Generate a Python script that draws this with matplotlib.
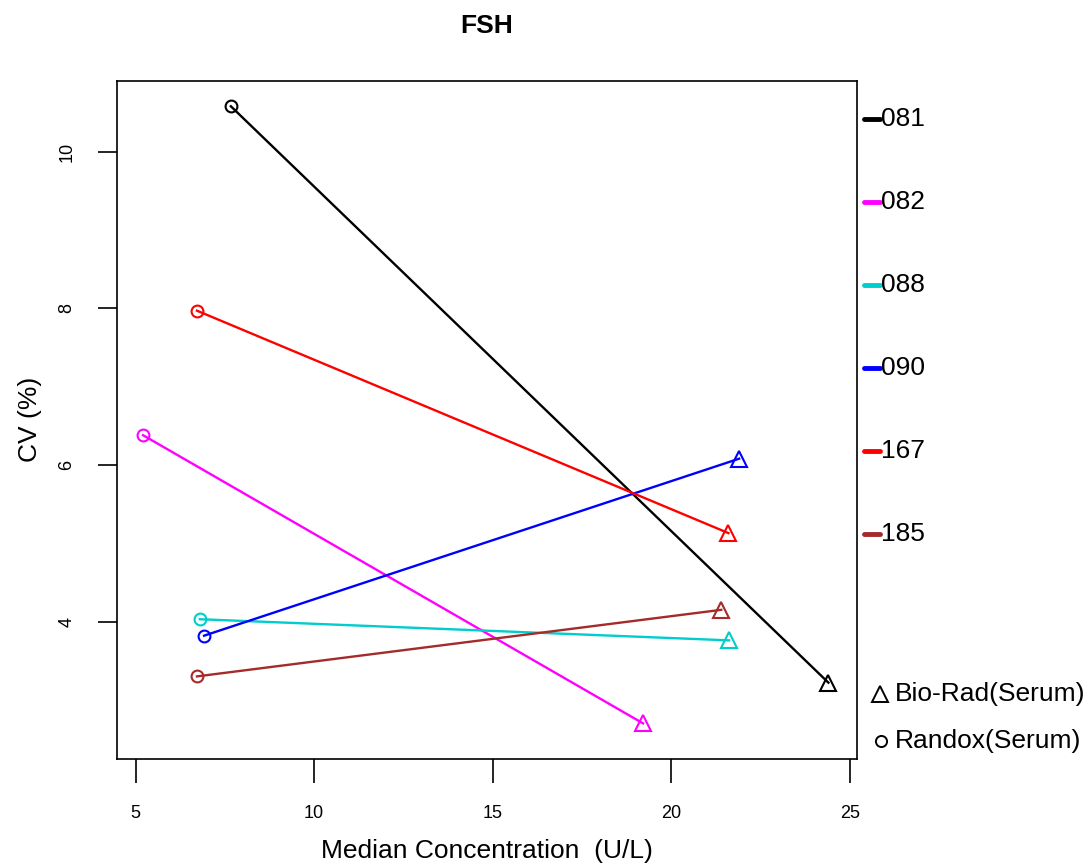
import numpy as np
import matplotlib.pyplot as plt
from matplotlib.lines import Line2D

plt.rcParams['font.family'] = ['Liberation Sans', 'DejaVu Sans']

# data
labs = ['081', '082', '088', '090', '167', '185']
cols = ['black', '#FF00FF', '#00CDCD', 'blue', 'red', '#A52A2A']
x_randox = [7.67, 5.21, 6.80, 6.92, 6.72, 6.72]
cv_randox = [10.58, 6.38, 4.03, 3.82, 7.97, 3.30]
x_biorad = [24.40, 19.21, 21.62, 21.90, 21.60, 21.40]
cv_biorad = [3.22, 2.70, 3.76, 6.08, 5.13, 4.15]
xticks = [5, 10, 15, 20, 25]
yticks = [4, 6, 8, 10]

fig = plt.figure(figsize=(10.91, 8.63), dpi=100)
ax = fig.add_axes([0.1072, 0.1205, 0.6783, 0.786])

for i in range(len(labs)):
    ax.plot([x_randox[i], x_biorad[i]], [cv_randox[i], cv_biorad[i]], color=cols[i], lw=1.7)
    ax.plot(x_randox[i], cv_randox[i], 'o', mfc='none', mec=cols[i], ms=8.5, mew=1.5)
    ax.plot(x_biorad[i], cv_biorad[i], '^', mfc='none', mec=cols[i], ms=12, mew=1.5)

ax.set_xlim(4.48, 25.2)
ax.set_ylim(2.245, 10.907)
ax.set_xticks(xticks)
ax.set_yticks(yticks)
ax.tick_params(axis='x', length=17, width=1.2, pad=16, labelsize=13)
ax.tick_params(axis='y', length=14, width=1.2, pad=16, labelsize=13)
for t in ax.get_yticklabels():
    t.set_rotation(90)
    t.set_va('center')
for s in ax.spines.values():
    s.set_linewidth(1.2)

ax.set_xlabel('Median Concentration  (U/L)', fontsize=19, labelpad=12)
ax.set_ylabel('CV (%)', fontsize=19, labelpad=12)
ax.set_title('FSH', fontsize=19, fontweight='bold', pad=34)

# legend in right margin
y0 = 1 - 119 / 863
step = 83 / 863
for i in range(len(labs)):
    yy = y0 - i * step
    fig.add_artist(Line2D([0.7915, 0.8065], [yy, yy], transform=fig.transFigure,
                          color=cols[i], lw=3.5, solid_capstyle='round'))
    fig.text(0.8075, yy, labs[i], fontsize=19, va='center', ha='left')

fig.add_artist(Line2D([0.8065], [1 - 694 / 863], transform=fig.transFigure, marker='^',
                      mfc='none', mec='black', ms=12, mew=1.4))
fig.text(0.8205, 1 - 694 / 863, 'Bio-Rad(Serum)', fontsize=19, va='center', ha='left')
fig.add_artist(Line2D([0.8075], [1 - 741 / 863], transform=fig.transFigure, marker='o',
                      mfc='none', mec='black', ms=8, mew=1.4))
fig.text(0.8205, 1 - 741 / 863, 'Randox(Serum)', fontsize=19, va='center', ha='left')

plt.savefig('out.png', dpi=100)
